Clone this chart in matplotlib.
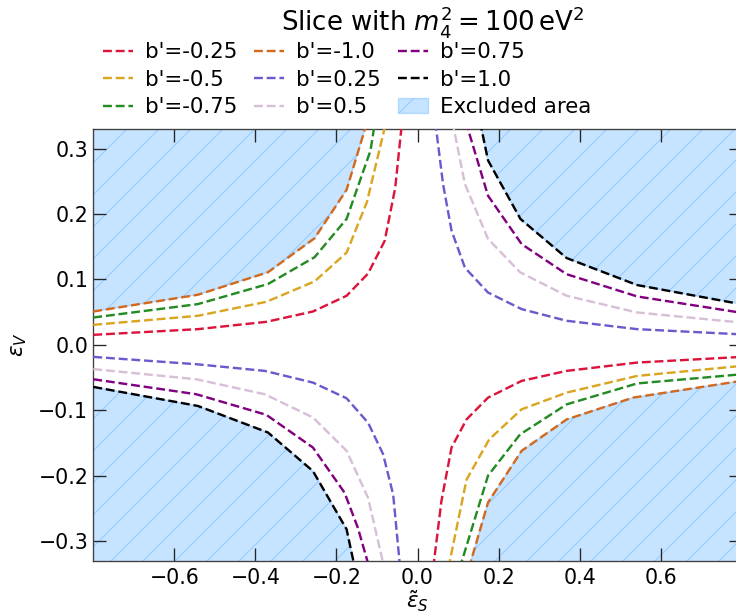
import matplotlib
matplotlib.use("Agg")
import matplotlib.pyplot as plt

# ---------------- data ----------------
# negative b' : upper-left (UL) and lower-right (LR) branches
red_ul_x = [-0.80, -0.542, -0.373, -0.258, -0.175, -0.122, -0.081, -0.055, -0.035]
red_ul_y = [0.0153, 0.024, 0.0352, 0.051, 0.075, 0.109, 0.159, 0.24, 0.36]
gold_ul_x = [-0.80, -0.542, -0.373, -0.254, -0.175, -0.125, -0.070]
gold_ul_y = [0.0306, 0.0444, 0.0658, 0.097, 0.141, 0.218, 0.36]
green_ul_x = [-0.80, -0.542, -0.369, -0.254, -0.175, -0.116, -0.100]
green_ul_y = [0.0418, 0.0623, 0.093, 0.134, 0.1925, 0.297, 0.36]
orange_ul_x = [-0.80, -0.542, -0.369, -0.254, -0.175, -0.115]
orange_ul_y = [0.051, 0.0766, 0.111, 0.163, 0.237, 0.36]

red_lr_x = [0.035, 0.059, 0.084, 0.121, 0.174, 0.257, 0.368, 0.542, 0.80]
red_lr_y = [-0.36, -0.239, -0.157, -0.114, -0.0807, -0.0551, -0.0398, -0.0271, -0.0184]
gold_lr_x = [0.070, 0.121, 0.177, 0.257, 0.368, 0.542, 0.80]
gold_lr_y = [-0.36, -0.206, -0.1445, -0.0985, -0.073, -0.0475, -0.0322]
green_lr_x = [0.095, 0.174, 0.253, 0.368, 0.542, 0.80]
green_lr_y = [-0.36, -0.200, -0.137, -0.091, -0.059, -0.045]
orange_lr_x = [0.118, 0.174, 0.257, 0.368, 0.532, 0.80]
orange_lr_y = [-0.36, -0.241, -0.162, -0.114, -0.0807, -0.055]

# positive b' : upper-right (UR) and lower-left (LL) branches
slate_ur_x = [0.040, 0.063, 0.084, 0.117, 0.174, 0.257, 0.368, 0.542, 0.80]
slate_ur_y = [0.36, 0.246, 0.1746, 0.118, 0.080, 0.0546, 0.0368, 0.024, 0.016]
thistle_ur_x = [0.080, 0.117, 0.174, 0.253, 0.368, 0.542, 0.80]
thistle_ur_y = [0.36, 0.246, 0.162, 0.111, 0.075, 0.0495, 0.034]
purple_ur_x = [0.110, 0.174, 0.257, 0.368, 0.542, 0.80]
purple_ur_y = [0.36, 0.228, 0.154, 0.108, 0.074, 0.049]
black_ur_x = [0.148, 0.174, 0.254, 0.368, 0.542, 0.80]
black_ur_y = [0.36, 0.282, 0.1925, 0.1327, 0.0914, 0.062]

slate_ll_x = [-0.80, -0.546, -0.377, -0.258, -0.175, -0.122, -0.085, -0.060, -0.040]
slate_ll_y = [-0.0184, -0.0296, -0.0398, -0.0577, -0.0817, -0.119, -0.167, -0.229, -0.36]
thistle_ll_x = [-0.80, -0.546, -0.377, -0.258, -0.175, -0.122, -0.075]
thistle_ll_y = [-0.037, -0.0526, -0.0755, -0.111, -0.162, -0.234, -0.36]
purple_ll_x = [-0.80, -0.546, -0.373, -0.258, -0.180, -0.147, -0.110]
purple_ll_y = [-0.0526, -0.0755, -0.107, -0.157, -0.226, -0.28, -0.36]
black_ll_x = [-0.80, -0.542, -0.369, -0.258, -0.175, -0.148]
black_ll_y = [-0.0643, -0.0934, -0.134, -0.193, -0.282, -0.36]

labels = ["b'=-0.25", "b'=-0.5", "b'=-0.75", "b'=-1.0",
          "b'=0.25", "b'=0.5", "b'=0.75", "b'=1.0"]
colors = ["crimson", "goldenrod", "forestgreen", "chocolate",
          "slateblue", "thistle", "purple", "black"]
branches_a = [(red_ul_x, red_ul_y), (gold_ul_x, gold_ul_y), (green_ul_x, green_ul_y),
              (orange_ul_x, orange_ul_y), (slate_ur_x, slate_ur_y),
              (thistle_ur_x, thistle_ur_y), (purple_ur_x, purple_ur_y),
              (black_ur_x, black_ur_y)]
branches_b = [(red_lr_x, red_lr_y), (gold_lr_x, gold_lr_y), (green_lr_x, green_lr_y),
              (orange_lr_x, orange_lr_y), (slate_ll_x, slate_ll_y),
              (thistle_ll_x, thistle_ll_y), (purple_ll_x, purple_ll_y),
              (black_ll_x, black_ll_y)]

xticks = [-0.6, -0.4, -0.2, 0.0, 0.2, 0.4, 0.6]
yticks = [-0.3, -0.2, -0.1, 0.0, 0.1, 0.2, 0.3]

# ---------------- figure ----------------
DPI = 192
plt.rcParams['hatch.linewidth'] = 0.45
plt.rcParams['font.family'] = ['DejaVu Sans']
fig = plt.figure(figsize=(736 / DPI, 616 / DPI), dpi=DPI)
ax = fig.add_axes([93.3 / 736, (616 - 560.7) / 616, 648.4 / 736, 431.7 / 616])

fill_kw = dict(color='dodgerblue', alpha=0.25, hatch='//', linewidth=0.5, zorder=1)
ax.fill_between(orange_ul_x, orange_ul_y, 0.4, label='Excluded area', **fill_kw)
ax.fill_between(orange_lr_x, -0.4, orange_lr_y, **fill_kw)
ax.fill_between(black_ur_x, black_ur_y, 0.4, **fill_kw)
ax.fill_between(black_ll_x, -0.4, black_ll_y, **fill_kw)

for lab, c, (xa, ya), (xb, yb) in zip(labels, colors, branches_a, branches_b):
    ax.plot(xa, ya, '--', color=c, lw=0.9, label=lab, zorder=3)
    ax.plot(xb, yb, '--', color=c, lw=0.9, zorder=3)

ax.set_xlim(-0.8, 0.8)
ax.set_ylim(-0.33, 0.33)
ax.set_xticks(xticks)
ax.set_yticks(yticks)
ax.tick_params(which='both', direction='in', top=True, right=True,
               length=4.8, width=0.5, labelsize=7.7, color='0.15')
ax.tick_params(axis='y', pad=1.9)
ax.tick_params(axis='x', pad=2.6)
for s in ax.spines.values():
    s.set_linewidth(0.5)
    s.set_color('0.25')

ax.set_xlabel(r'$\tilde{\varepsilon}_S$', fontsize=8, labelpad=0.5)
ax.set_ylabel(r'$\varepsilon_V$', fontsize=8, labelpad=3.5)

fig.text(281 / 736, 1 - 30 / 616, r'Slice with $m_4^2 = 100\,\mathrm{eV}^2$',
         ha='left', va='baseline', fontsize=9.75)

hs, ls = ax.get_legend_handles_labels()
order = labels + ['Excluded area']
hmap = dict(zip(ls, hs))
fig.legend([hmap[l] for l in order], order, ncol=3, loc='upper left',
           bbox_to_anchor=(103 / 736, 1 - 42 / 616), frameon=False,
           fontsize=8, borderaxespad=0, borderpad=0, handlelength=1.4,
           handletextpad=0.56, columnspacing=0.8, labelspacing=0.36)

fig.savefig('out.png', dpi=DPI)
